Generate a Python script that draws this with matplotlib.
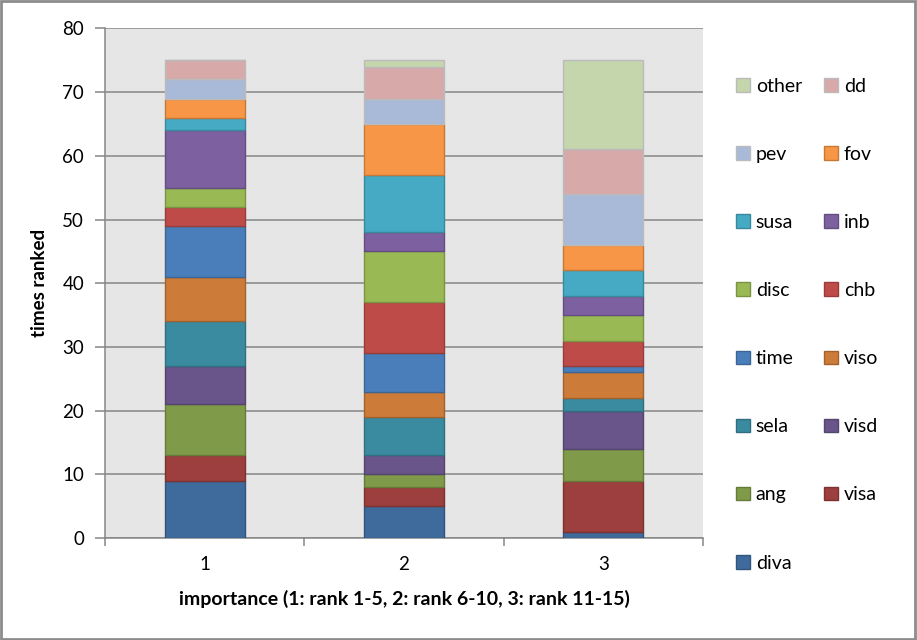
import matplotlib
matplotlib.use('Agg')
import matplotlib.pyplot as plt
import matplotlib.colors as mcolors
from matplotlib.patches import Patch, Rectangle
import numpy as np

plt.rcParams['font.family'] = ['Lato', 'DejaVu Sans']

# 数据：三个重要性等级下每个特征被排到的次数（自下而上堆叠）
categories = ['1', '2', '3']
series_names = ['diva', 'visa', 'ang', 'visd', 'sela', 'viso', 'time', 'chb',
                'disc', 'inb', 'susa', 'fov', 'pev', 'dd', 'other']
diva = [9, 5, 1]
visa = [4, 3, 8]
ang = [8, 2, 5]
visd = [6, 3, 6]
sela = [7, 6, 2]
viso = [7, 4, 4]
time_ = [8, 6, 1]
chb = [3, 8, 4]
disc = [3, 8, 4]
inb = [9, 3, 3]
susa = [2, 9, 4]
fov = [3, 8, 4]
pev = [3, 4, 8]
dd = [3, 5, 7]
other = [0, 1, 14]
series_values = [diva, visa, ang, visd, sela, viso, time_, chb,
                 disc, inb, susa, fov, pev, dd, other]
colors = ['#3F6A9C', '#9C3F3E', '#7F9A48', '#69558A', '#3B8BA0', '#CC7B38',
          '#4A7EBB', '#BE4B48', '#98B954', '#7D60A0', '#46AAC5', '#F79646',
          '#A9B9D8', '#D8A9A9', '#C6D6AC']
y_ticks = [0, 10, 20, 30, 40, 50, 60, 70, 80]


def darker(c, f=0.8):
    r, g, b = mcolors.to_rgb(c)
    return (r * f, g * f, b * f)


fig = plt.figure(figsize=(9.17, 6.4), dpi=100)
ax = fig.add_axes([0.1145, 0.1594, 0.652, 0.7961])
ax.set_facecolor('#E6E6E6')

x = np.arange(1, len(categories) + 1)
bottom = np.zeros(len(categories))
handles = {}
for name, vals, col in zip(series_names, series_values, colors):
    ec = '#BBBBBB' if name in ('pev', 'dd', 'other') else darker(col)
    ax.bar(x, vals, width=0.4, bottom=bottom, color=col, edgecolor=ec,
           linewidth=1.0, zorder=3)
    bottom += np.array(vals)
    handles[name] = Patch(facecolor=col, edgecolor=ec, linewidth=1.0)

ax.set_xlim(0.5, 3.5)
ax.set_ylim(0, 80)
ax.set_yticks(y_ticks)
ax.yaxis.grid(True, color='#868686', linewidth=1.1, zorder=0)
ax.set_axisbelow(True)
ax.set_xticks(x)
ax.set_xticklabels(categories)
ax.set_xticks([0.5, 1.5, 2.5, 3.5], minor=True)
ax.tick_params(axis='x', which='major', length=0, pad=13, labelsize=13.5)
ax.tick_params(axis='x', which='minor', length=6, color='#868686', width=1.1)
ax.tick_params(axis='y', length=7, color='#868686', width=1.1, labelsize=13.5, pad=8)
for s in ['top', 'right']:
    ax.spines[s].set_visible(False)
for s in ['left', 'bottom']:
    ax.spines[s].set_color('#868686')
    ax.spines[s].set_linewidth(1.1)

ax.set_ylabel('times ranked', fontsize=13.5, fontweight='bold', labelpad=10)
ax.set_xlabel('importance (1: rank 1-5, 2: rank 6-10, 3: rank 11-15)',
              fontsize=14, fontweight='bold', labelpad=12)

# 图例按 Excel 的顺序：两列，列优先
order = ['other', 'pev', 'susa', 'disc', 'time', 'sela', 'ang', 'diva',
         'dd', 'fov', 'inb', 'chb', 'viso', 'visd', 'visa']
fig.legend([handles[n] for n in order], order, ncol=2, frameon=False,
           loc='upper left', bbox_to_anchor=(0.784, 0.906), fontsize=14,
           handlelength=0.7, handleheight=0.7, handletextpad=0.3,
           labelspacing=2.63, columnspacing=1.15)

# 图表外框
fig.patches.append(Rectangle((0.001, 0.002), 0.997, 0.996, transform=fig.transFigure,
                             fill=False, edgecolor='#8C8C8C', linewidth=2))

fig.savefig('out.png', dpi=100)
